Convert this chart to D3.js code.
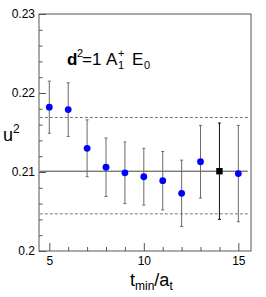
<!DOCTYPE html>
<html>
<head>
<meta charset="utf-8">
<script src="https://cdn.jsdelivr.net/npm/d3@7"></script>
<style>
  body { margin: 0; background: #fff; }
  text { font-family: "Liberation Sans", Arial, sans-serif; }
</style>
</head>
<body>
<div class="chart"></div>
<script>
// t_min values and fitted u^2 with errors
var tMin = [5, 6, 7, 8, 9, 10, 11, 12, 13, 14, 15];
var uSq = [0.2182, 0.2179, 0.2130, 0.2106, 0.2099, 0.2094, 0.2089, 0.2073, 0.2113, 0.2101, 0.2098];
var uErr = [0.0033, 0.0034, 0.0036, 0.0037, 0.0039, 0.0036, 0.0037, 0.0042, 0.0046, 0.0061, 0.0061];
var chosenT = 14;

// chosen fit value and its band
var fitValue = 0.2101;
var bandUpper = 0.2169;
var bandLower = 0.2047;
var fitRange = [4.5, 15.5];

var yMajor = [0.20, 0.21, 0.22, 0.23];
var yMinor = [0.202, 0.204, 0.206, 0.208, 0.212, 0.214, 0.216, 0.218, 0.222, 0.224, 0.226, 0.228];
var xMajor = [5, 10, 15];
var xMinor = [6, 7, 8, 9, 11, 12, 13, 14];

var margin = {top: 14, right: 15, bottom: 46, left: 39};
var width = 266 - margin.left - margin.right,
    height = 297 - margin.top - margin.bottom;

var svg = d3.select(".chart").append("svg")
    .attr("width", 266)
    .attr("height", 297);

var chart = svg.append("g")
    .attr("transform", "translate(" + margin.left + "," + margin.top + ")");

var x = d3.scaleLinear().domain([4.455, 15.67]).range([0, width]);
var y = d3.scaleLinear().domain([0.2, 0.23]).range([height, 0]);

var data = tMin.map(function(t, i) { return {t: t, u: uSq[i], e: uErr[i]}; });

// frame
chart.append("rect")
    .attr("x", 0).attr("y", 0)
    .attr("width", width).attr("height", height)
    .attr("fill", "none")
    .attr("stroke", "#555");

// axes
chart.append("g")
    .call(d3.axisLeft(y).tickValues(yMajor).tickSize(-7).tickPadding(4)
      .tickFormat(d3.format("~g")));
chart.append("g")
    .call(d3.axisLeft(y).tickValues(yMinor).tickSize(-3.5).tickFormat(""));
chart.append("g")
    .attr("transform", "translate(0," + height + ")")
    .call(d3.axisBottom(x).tickValues(xMajor).tickSize(-8).tickPadding(5));
chart.append("g")
    .attr("transform", "translate(0," + height + ")")
    .call(d3.axisBottom(x).tickValues(xMinor).tickSize(-4).tickFormat(""));

chart.selectAll(".domain").remove();
chart.selectAll(".tick line").attr("stroke", "#555");
chart.selectAll(".tick text")
    .style("font-family", "Liberation Sans, Arial, sans-serif")
    .style("font-size", "12px")
    .attr("fill", "#000");

// fit line and band
chart.append("line")
    .attr("x1", x(fitRange[0])).attr("x2", x(fitRange[1]))
    .attr("y1", y(fitValue)).attr("y2", y(fitValue))
    .attr("stroke", "#444");

[bandUpper, bandLower].forEach(function(v) {
  chart.append("line")
    .attr("x1", x(fitRange[0])).attr("x2", x(fitRange[1]))
    .attr("y1", y(v)).attr("y2", y(v))
    .attr("stroke", "#777")
    .attr("stroke-dasharray", "3,2");
});

// error bars
var bars = chart.selectAll(".err")
    .data(data)
    .enter().append("g")
    .attr("class", "err")
    .attr("stroke", function(d) { return d.t === chosenT ? "#111" : "#6a6a6a"; });

bars.append("line")
    .attr("x1", function(d) { return x(d.t); })
    .attr("x2", function(d) { return x(d.t); })
    .attr("y1", function(d) { return y(d.u + d.e); })
    .attr("y2", function(d) { return y(d.u - d.e); });
bars.append("line")
    .attr("x1", function(d) { return x(d.t) - 1.5; })
    .attr("x2", function(d) { return x(d.t) + 1.5; })
    .attr("y1", function(d) { return y(d.u + d.e); })
    .attr("y2", function(d) { return y(d.u + d.e); });
bars.append("line")
    .attr("x1", function(d) { return x(d.t) - 1.5; })
    .attr("x2", function(d) { return x(d.t) + 1.5; })
    .attr("y1", function(d) { return y(d.u - d.e); })
    .attr("y2", function(d) { return y(d.u - d.e); });

// points
chart.selectAll(".pt")
    .data(data.filter(function(d) { return d.t !== chosenT; }))
    .enter().append("circle")
    .attr("class", "pt")
    .attr("cx", function(d) { return x(d.t); })
    .attr("cy", function(d) { return y(d.u); })
    .attr("r", 3.4)
    .attr("fill", "#0000ff");

chart.selectAll(".sq")
    .data(data.filter(function(d) { return d.t === chosenT; }))
    .enter().append("rect")
    .attr("class", "sq")
    .attr("x", function(d) { return x(d.t) - 3.2; })
    .attr("y", function(d) { return y(d.u) - 3.2; })
    .attr("width", 6.4).attr("height", 6.4)
    .attr("fill", "#000");

// annotation  d^2=1 A1+ E0
var ann = svg.append("g").attr("fill", "#000");
ann.append("text").attr("x", 67).attr("y", 65).style("font-size", "17px").style("font-weight", "bold").text("d");
ann.append("text").attr("x", 77).attr("y", 57).style("font-size", "11px").text("2");
ann.append("text").attr("x", 82).attr("y", 65).style("font-size", "17px").text("=1");
ann.append("text").attr("x", 106).attr("y", 65).style("font-size", "17px").text("A");
ann.append("text").attr("x", 118).attr("y", 57).style("font-size", "11px").text("+");
ann.append("text").attr("x", 118).attr("y", 69).style("font-size", "11px").text("1");
ann.append("text").attr("x", 132).attr("y", 65).style("font-size", "17px").text("E");
ann.append("text").attr("x", 144).attr("y", 69).style("font-size", "11px").text("0");

// axis titles
var yl = svg.append("text").attr("x", 3).attr("y", 141).style("font-size", "18px");
yl.append("tspan").text("u");
yl.append("tspan").attr("dy", -8).style("font-size", "12px").text("2");

var xl = svg.append("text").attr("x", 130).attr("y", 286).style("font-size", "18px");
xl.append("tspan").text("t");
xl.append("tspan").attr("dy", 4).style("font-size", "12px").text("min");
xl.append("tspan").attr("dy", -4).text("/a");
xl.append("tspan").attr("dy", 4).style("font-size", "12px").text("t");
</script>
</body>
</html>
